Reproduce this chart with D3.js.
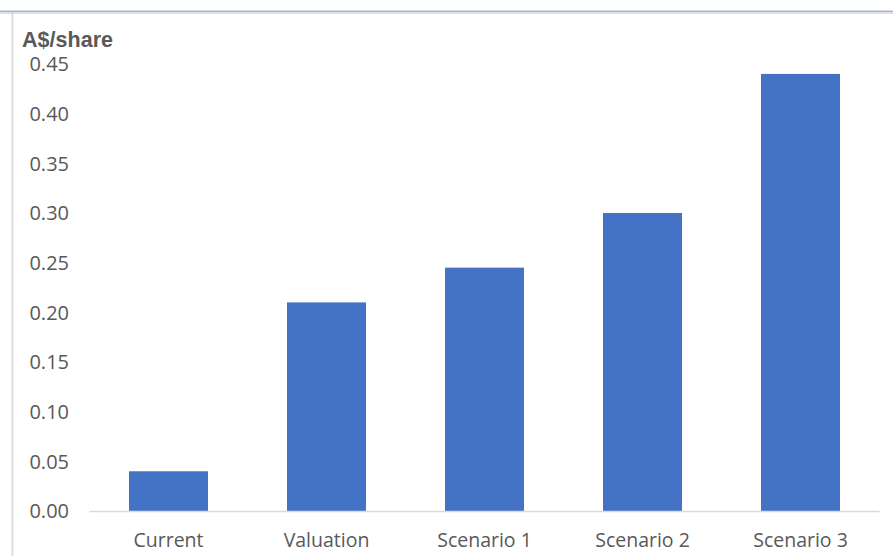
<!DOCTYPE html>
<html>
<head>
<meta charset="utf-8">
<script src="https://cdn.jsdelivr.net/npm/d3@7"></script>
<style>
  html, body { margin: 0; padding: 0; background: #fff; }
  svg { display: block; }
</style>
</head>
<body>
<svg id="chart" width="893" height="556"></svg>
<script>
// Share value per scenario (A$/share)
const categories = ["Current", "Valuation", "Scenario 1", "Scenario 2", "Scenario 3"];
const values = [0.04, 0.21, 0.245, 0.30, 0.44];
const yTicks = [0, 0.05, 0.10, 0.15, 0.20, 0.25, 0.30, 0.35, 0.40, 0.45];
const unitLabel = "A$/share";

const W = 893, H = 556;
const svg = d3.select("#chart");

// frame: blue rule at top, grey borders
svg.append("rect").attr("x", 0).attr("y", 10.5).attr("width", W).attr("height", 1.5).attr("fill", "#a3b7e0");
svg.append("rect").attr("x", 0).attr("y", 12).attr("width", W).attr("height", 2).attr("fill", "#e0e0e0");
svg.append("rect").attr("x", 11.5).attr("y", 12).attr("width", 1.8).attr("height", H - 12).attr("fill", "#d9d9d9");

const x = d3.scaleBand().domain(categories).range([89.5, 879.5]).paddingInner(0.5).paddingOuter(0.25);
const y = d3.scaleLinear().domain([0, 0.45]).range([511, 64]);

const labelFont = "'Open Sans', 'Noto Sans', sans-serif";

// y tick labels
svg.append("g")
  .selectAll("text")
  .data(yTicks)
  .join("text")
  .attr("x", 69)
  .attr("y", d => y(d))
  .attr("dy", "0.36em")
  .attr("text-anchor", "end")
  .attr("font-family", labelFont)
  .attr("font-size", 20)
  .attr("fill", "#595959")
  .text(d => d3.format(".2f")(d));

// bars
svg.append("g")
  .selectAll("rect")
  .data(values)
  .join("rect")
  .attr("x", (d, i) => x(categories[i]))
  .attr("width", x.bandwidth())
  .attr("y", d => y(d))
  .attr("height", d => y(0) - y(d))
  .attr("fill", "#4472c4");

// baseline
svg.append("line")
  .attr("x1", 89.5).attr("x2", 879.5)
  .attr("y1", y(0) + 0.5).attr("y2", y(0) + 0.5)
  .attr("stroke", "#d9d9d9").attr("stroke-width", 1.5);

// category labels
svg.append("g")
  .selectAll("text")
  .data(categories)
  .join("text")
  .attr("x", d => x(d) + x.bandwidth() / 2)
  .attr("y", 547)
  .attr("text-anchor", "middle")
  .attr("font-family", labelFont)
  .attr("font-size", 19.5)
  .attr("fill", "#595959")
  .text(d => d);

// unit label (condensed bold)
svg.append("text")
  .attr("x", 22)
  .attr("y", 47)
  .attr("font-family", "'Liberation Sans Narrow', 'Arial Narrow', 'Liberation Sans', sans-serif")
  .attr("font-weight", "bold")
  .attr("font-size", 22)
  .attr("textLength", 91)
  .attr("lengthAdjust", "spacingAndGlyphs")
  .attr("fill", "#595959")
  .text(unitLabel);
</script>
</body>
</html>
